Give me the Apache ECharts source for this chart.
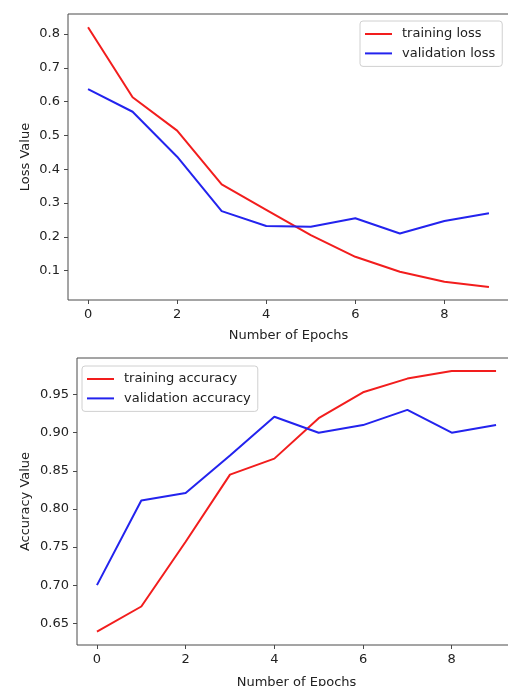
<!DOCTYPE html>
<html>
<head>
<meta charset="utf-8">
<script src="https://cdn.jsdelivr.net/npm/echarts@6/dist/echarts.min.js"></script>
<style>
html,body{margin:0;padding:0;background:#fff;}
#chart{width:508px;height:686px;}
</style>
</head>
<body>
<div id="chart"></div>
<script>
const epochs = [0, 1, 2, 3, 4, 5, 6, 7, 8, 9];
const trainLoss = [0.820, 0.613, 0.514, 0.355, 0.280, 0.205, 0.141, 0.097, 0.067, 0.052];
const valLoss = [0.637, 0.570, 0.437, 0.276, 0.232, 0.230, 0.255, 0.210, 0.247, 0.270];
const trainAcc = [0.639, 0.672, 0.757, 0.845, 0.866, 0.919, 0.953, 0.971, 0.981, 0.981];
const valAcc = [0.700, 0.811, 0.821, 0.870, 0.921, 0.900, 0.910, 0.930, 0.900, 0.910];
const xTicks = [0, 2, 4, 6, 8];
const lossTicks = [0.1, 0.2, 0.3, 0.4, 0.5, 0.6, 0.7, 0.8];
const accTicks = [0.65, 0.70, 0.75, 0.80, 0.85, 0.90, 0.95];

const FONT = 'DejaVu Sans';
const TXT = '#222';
const AX = '#4a4a4a';
const RED = '#f21d1d';
const BLUE = '#2323ee';

function pairs(ys) { return epochs.map((x, i) => [x, ys[i]]); }

function xAxisCfg(gridIndex, nameGap) {
  return {
    type: 'value', gridIndex, min: -0.45, max: 9.45,
    name: 'Number of Epochs', nameLocation: 'middle', nameGap, nameMoveOverlap: false,
    nameTextStyle: { fontFamily: FONT, fontSize: 13, color: TXT },
    axisLine: { show: false, onZero: false },
    axisTick: { show: true, inside: false, length: 4, customValues: xTicks, lineStyle: { color: AX, width: 1 } },
    axisLabel: { customValues: xTicks, margin: 8, fontFamily: FONT, fontSize: 13, color: TXT },
    splitLine: { show: false }
  };
}
function yAxisCfg(gridIndex, min, max, ticks, dec, name, nameGap) {
  return {
    type: 'value', gridIndex, min, max,
    name, nameLocation: 'middle', nameGap, nameMoveOverlap: false,
    nameTextStyle: { fontFamily: FONT, fontSize: 13, color: TXT },
    axisLine: { show: false, onZero: false },
    axisTick: { show: true, inside: false, length: 4, customValues: ticks, lineStyle: { color: AX, width: 1 } },
    axisLabel: { customValues: ticks, margin: 8, fontFamily: FONT, fontSize: 13, color: TXT,
      formatter: v => v.toFixed(dec) },
    splitLine: { show: false }
  };
}
function legendCfg(names, left, top) {
  return {
    data: names.map(n => ({ name: n, icon: 'rect' })),
    orient: 'vertical', left, top,
    itemWidth: 27, itemHeight: 2, itemGap: 3.4,
    padding: [5, 7, 5, 5],
    backgroundColor: 'rgba(255,255,255,0.8)',
    borderColor: '#d0d0d0', borderWidth: 1, borderRadius: 3,
    textStyle: { fontFamily: FONT, fontSize: 13, color: TXT, lineHeight: 16, padding: [0, 0, 0, 5] }
  };
}

const chart = echarts.init(document.getElementById('chart'), null, { renderer: 'canvas' });
chart.setOption({
  animation: false,
  backgroundColor: '#fff',
  grid: [
    { left: 68, top: 14, width: 441, height: 286, show: true, borderColor: AX, borderWidth: 1, backgroundColor: '#fff', outerBoundsMode: 'none', containLabel: false },
    { left: 77, top: 358, width: 439, height: 287, show: true, borderColor: AX, borderWidth: 1, backgroundColor: '#fff', outerBoundsMode: 'none', containLabel: false }
  ],
  xAxis: [xAxisCfg(0, 29), xAxisCfg(1, 31)],
  yAxis: [
    yAxisCfg(0, 0.0133, 0.859, lossTicks, 1, 'Loss Value', 36),
    yAxisCfg(1, 0.6215, 0.998, accTicks, 2, 'Accuracy Value', 45)
  ],
  legend: [
    legendCfg(['training loss', 'validation loss'], 360, 21),
    legendCfg(['training accuracy', 'validation accuracy'], 82, 366)
  ],
  series: [
    { name: 'training loss', type: 'line', xAxisIndex: 0, yAxisIndex: 0, data: pairs(trainLoss), showSymbol: false, color: RED, lineStyle: { width: 2, color: RED } },
    { name: 'validation loss', type: 'line', xAxisIndex: 0, yAxisIndex: 0, data: pairs(valLoss), showSymbol: false, color: BLUE, lineStyle: { width: 2, color: BLUE } },
    { name: 'training accuracy', type: 'line', xAxisIndex: 1, yAxisIndex: 1, data: pairs(trainAcc), showSymbol: false, color: RED, lineStyle: { width: 2, color: RED } },
    { name: 'validation accuracy', type: 'line', xAxisIndex: 1, yAxisIndex: 1, data: pairs(valAcc), showSymbol: false, color: BLUE, lineStyle: { width: 2, color: BLUE } }
  ]
});
</script>
</body>
</html>
